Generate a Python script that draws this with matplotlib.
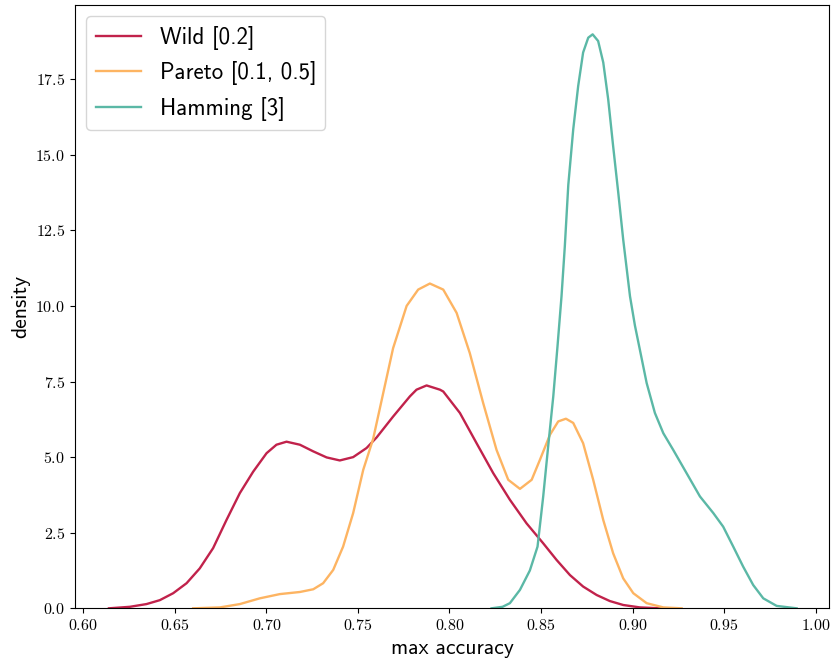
import matplotlib
matplotlib.use('Agg')
import matplotlib.pyplot as plt
from matplotlib.ticker import FuncFormatter

#%% curve values (max accuracy, density)

wild_x = [0.6140, 0.6254, 0.6345, 0.6418, 0.6491, 0.6564, 0.6636, 0.6709, 0.6782,
          0.6855, 0.6928, 0.7001, 0.7055, 0.7110, 0.7183, 0.7256, 0.7329, 0.7401,
          0.7474, 0.7547, 0.7602, 0.7692, 0.7784, 0.7820, 0.7875, 0.7948, 0.7966,
          0.8057, 0.8148, 0.8239, 0.8330, 0.8421, 0.8512, 0.8585, 0.8658, 0.8730,
          0.8804, 0.8876, 0.8949, 0.9040, 0.9150]
wild_y = [0.00, 0.05, 0.14, 0.27, 0.50, 0.83, 1.32, 1.99, 2.92,
          3.81, 4.52, 5.13, 5.41, 5.51, 5.41, 5.19, 4.99, 4.89,
          5.00, 5.30, 5.65, 6.34, 7.01, 7.23, 7.37, 7.23, 7.17,
          6.46, 5.46, 4.47, 3.59, 2.81, 2.15, 1.60, 1.10, 0.72,
          0.44, 0.24, 0.11, 0.03, 0.00]

pareto_x = [0.6600, 0.6746, 0.6855, 0.6964, 0.7073, 0.7183, 0.7256, 0.7310, 0.7365,
            0.7419, 0.7474, 0.7529, 0.7583, 0.7692, 0.7766, 0.7829, 0.7893,
            0.7966, 0.8039, 0.8111, 0.8184, 0.8257, 0.8321, 0.8385, 0.8449, 0.8494,
            0.8549, 0.8594, 0.8636, 0.8676, 0.8730, 0.8785, 0.8840, 0.8894, 0.8949,
            0.9004, 0.9077, 0.9168, 0.9268]
pareto_y = [0.00, 0.03, 0.14, 0.33, 0.47, 0.54, 0.63, 0.83, 1.27,
            2.04, 3.15, 4.58, 5.60, 8.60, 10.00, 10.54, 10.74,
            10.54, 9.77, 8.44, 6.79, 5.24, 4.25, 3.95, 4.25, 4.91,
            5.74, 6.18, 6.27, 6.13, 5.46, 4.25, 2.92, 1.82, 0.99,
            0.50, 0.17, 0.03, 0.00]

hamming_x = [0.8230, 0.8290, 0.8330, 0.8385, 0.8439, 0.8481, 0.8512, 0.8539, 0.8567,
             0.8590, 0.8612, 0.8630, 0.8649, 0.8676, 0.8703, 0.8730, 0.8758, 0.8782,
             0.8812, 0.8840, 0.8867, 0.8894, 0.8922, 0.8949, 0.8986, 0.9013, 0.9040,
             0.9077, 0.9122, 0.9168, 0.9222, 0.9295, 0.9368, 0.9441, 0.9495, 0.9550,
             0.9604, 0.9659, 0.9714, 0.9787, 0.9896]
hamming_y = [0.00, 0.05, 0.17, 0.61, 1.25, 2.04, 3.70, 5.35, 7.01,
             8.66, 10.32, 11.97, 14.00, 15.84, 17.27, 18.38, 18.87, 18.98,
             18.76, 18.05, 16.83, 15.28, 13.74, 12.19, 10.32, 9.35, 8.55,
             7.45, 6.46, 5.79, 5.24, 4.47, 3.70, 3.15, 2.70, 2.04,
             1.38, 0.77, 0.33, 0.08, 0.00]

labels = ['Wild [0.2]', 'Pareto [0.1, 0.5]', 'Hamming [3]']
colors = ['#c1224b', '#fdb462', '#5bb8a6']

#%%
plt.rcParams.update({
    "font.family": "cmss10",
    "mathtext.fontset": "cm",
    "axes.unicode_minus": False,
})

fig = plt.figure(figsize=(8.32, 6.61), dpi=100)
ax = fig.add_axes([0.090, 0.0797, 0.9064, 0.9127])

for xx, yy, lab, col in zip([wild_x, pareto_x, hamming_x],
                            [wild_y, pareto_y, hamming_y], labels, colors):
    ax.plot(xx, yy, c=col, linewidth=1.7, label=lab, solid_joinstyle='round')

ax.set_xlim(0.5954, 1.0073)
ax.set_ylim(0, 19.95)
ax.set_xticks([0.60, 0.65, 0.70, 0.75, 0.80, 0.85, 0.90, 0.95, 1.00])
ax.set_yticks([0, 2.5, 5, 7.5, 10, 12.5, 15, 17.5])
ax.xaxis.set_major_formatter(FuncFormatter(lambda v, p: r'$%.2f$' % v))
ax.yaxis.set_major_formatter(FuncFormatter(lambda v, p: r'$%.1f$' % v))
ax.tick_params(axis='both', labelsize=11.5)

ax.set_xlabel('max accuracy', fontsize=15.5)
ax.set_ylabel('density', fontsize=15.5)

ax.legend(loc='upper left', fontsize=16.5, handlelength=2.0)

fig.savefig('out.png', dpi=100)
